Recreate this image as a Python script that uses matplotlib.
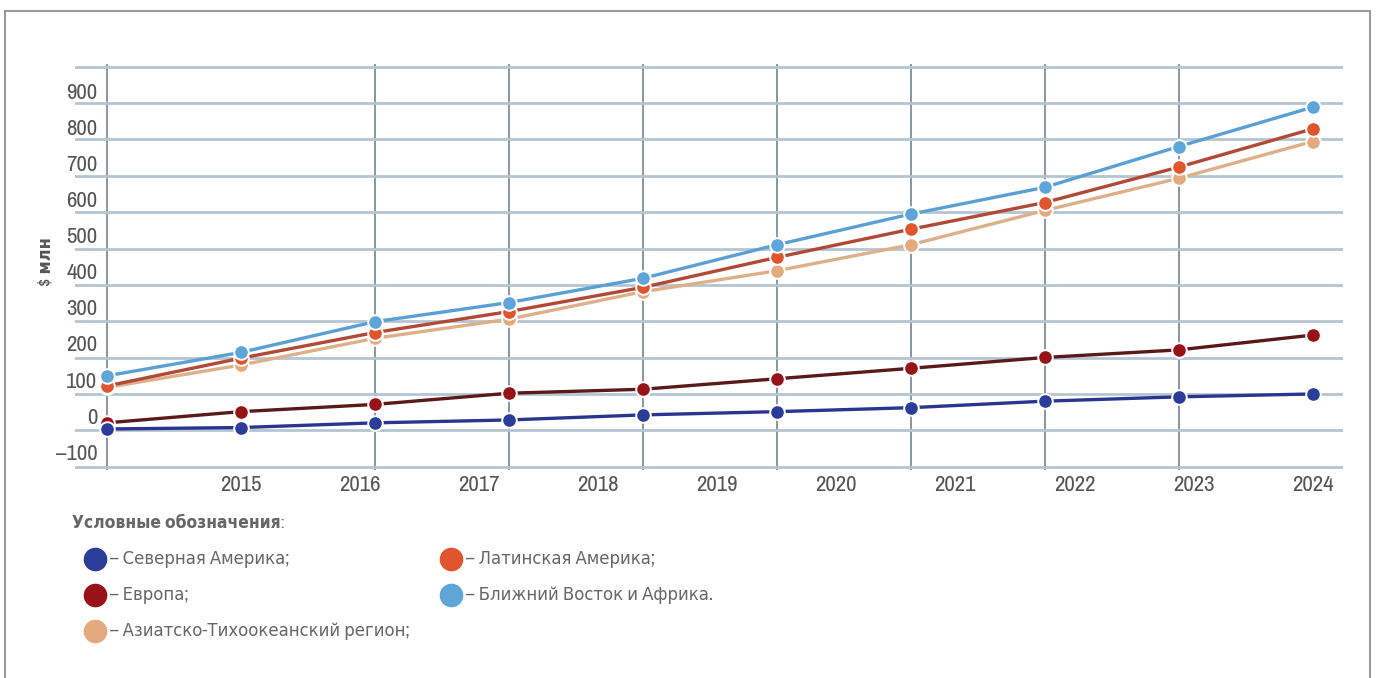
import numpy as np
import matplotlib
matplotlib.use("Agg")
import matplotlib.pyplot as plt
from matplotlib import font_manager
from matplotlib.lines import Line2D
from matplotlib.patches import Rectangle

# a narrow face is closest to the printed look; take whatever is installed
narrow = None
for f in font_manager.fontManager.ttflist:
    if ('Narrow' in f.name or 'Condensed' in f.name) and not f.fname.endswith('.otf'):
        narrow = f.name
        break
    if f.stretch in ('condensed', 'semi-condensed') and f.name in ('DejaVu Sans', 'Roboto', 'Noto Sans', 'Open Sans'):
        narrow = f.name
plt.rcParams['font.family'] = [narrow or 'Roboto', 'DejaVu Sans']
plt.rcParams['font.stretch'] = 'condensed'

# values ($ mln), one point per year
years = ['2015', '2016', '2017', '2018', '2019', '2020', '2021', '2022', '2023', '2024']
north_america = [-37, -33, -20, -12, 2, 11, 22, 40, 52, 60]
europe = [-20, 11, 31, 62, 73, 102, 131, 161, 182, 223]
asia_pacific = [78, 140, 214, 267, 343, 401, 473, 568, 657, 759]
latin_america = [82, 159, 230, 288, 355, 438, 516, 590, 688, 794]
mea = [110, 175, 260, 313, 380, 473, 558, 632, 745, 854]
y_ticks = [-100, 0, 100, 200, 300, 400, 500, 600, 700, 800, 900]

names = ['Северная Америка;', 'Европа;', 'Азиатско-Тихоокеанский регион;',
         'Латинская Америка;', 'Ближний Восток и Африка.']
colors = ['#2b3d98', '#98121a', '#e4aa7d', '#e0552d', '#5ea6d9']
line_colors = ['#2a3590', '#5a1a1c', '#ddb08a', '#b04a36', '#5aa0d4']

W, H = 1376, 678
fig = plt.figure(figsize=(W / 100, H / 100), dpi=100)
ax = fig.add_axes([75 / W, 1 - 469.8 / H, (1343 - 75) / W, (469.8 - 63.5) / H])

x = np.arange(len(years))
series = [asia_pacific, latin_america, mea, europe, north_america]
order = [2, 3, 4, 1, 0]
for k, (s, i) in enumerate(zip(series, order)):
    ax.plot(x, s, color=line_colors[i], lw=2.4, marker='o', ms=10.5,
            mfc=colors[i], mec='white', mew=1.4, zorder=3 + k * 0.1)

ax.set_xlim(-0.237, 9.227)
ax.set_ylim(-150, 975)

# grid lines sit between the printed tick labels in the original
ax.set_xticks(x, minor=True)
ax.set_xticks(np.linspace(1, 9, len(years)))
ax.set_xticklabels(years)
ax.set_yticks(np.linspace(-141.5, 966, 12), minor=True)
ax.set_yticks(y_ticks)
ax.set_yticklabels(['\u2013100' if v < 0 else str(v) for v in y_ticks])

ax.grid(False)
ax.grid(True, which='minor', axis='y', color='#b4c5d1', lw=2.0, zorder=1)
ax.grid(True, which='minor', axis='x', color='#7d909d', lw=1.3, zorder=1.1)
ax.tick_params(which='both', length=0)
ax.tick_params(axis='y', pad=-16, labelsize=16.5, labelcolor='#555555')
ax.tick_params(axis='x', pad=4, labelsize=16.5, labelcolor='#555555')
for lab in ax.get_yticklabels():
    lab.set_horizontalalignment('right')
for sp in ax.spines.values():
    sp.set_visible(False)

fig.text(45 / W, 1 - 262 / H, '$ млн', rotation=90, ha='center', va='center',
         fontsize=13, fontweight='bold', color='#555555')

# legend
fig.text(72 / W, 1 - 523 / H, 'Условные обозначения:', ha='left', va='center',
         fontsize=12.5, fontweight='bold', color='#666666')
pos = [(95, 559), (95, 595), (95, 631), (451, 559), (451, 595)]
for (px, py), c, n in zip(pos, colors, names):
    fig.add_artist(Line2D([px / W], [1 - py / H], transform=fig.transFigure,
                          marker='o', ms=16, mfc=c, mec=c, ls='none'))
    fig.text((px + 15) / W, 1 - py / H, '\u2013 ' + n, ha='left', va='center',
             fontsize=13.2, color='#666666')

fig.add_artist(Rectangle((5 / W, -0.2), (1370 - 5) / W, 1.2 - 11 / H,
                         transform=fig.transFigure, fill=False,
                         ec='#9a9a9a', lw=1.5, clip_on=False))

fig.savefig('out.png', dpi=100, facecolor='white')
